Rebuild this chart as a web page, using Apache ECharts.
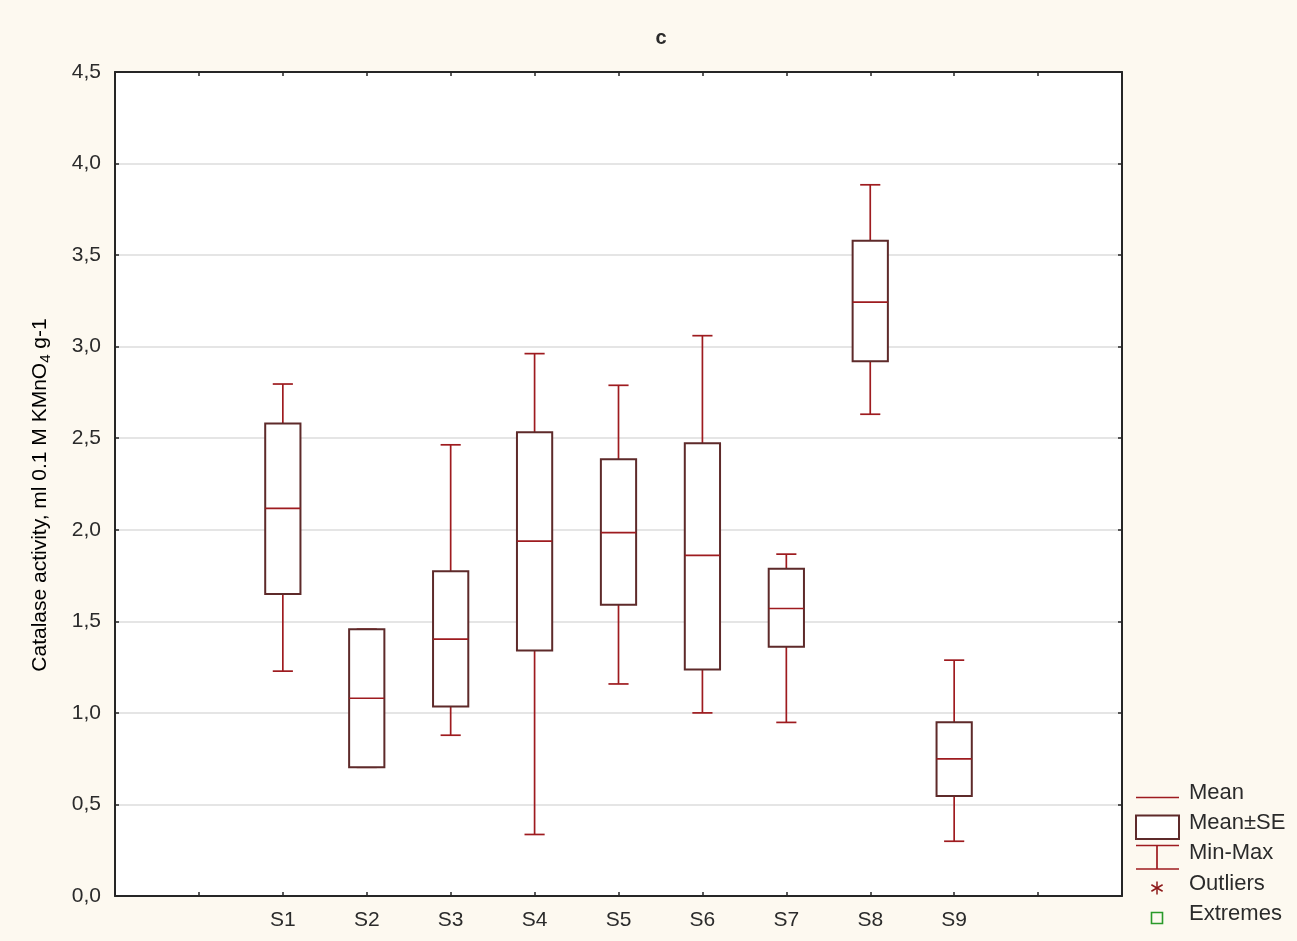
<!DOCTYPE html>
<html>
<head>
<meta charset="utf-8">
<title>Catalase activity c</title>
<script src="https://cdn.jsdelivr.net/npm/echarts@6/dist/echarts.min.js"></script>
<style>
  html, body { margin: 0; padding: 0; background: #fdf9f0; }
  #chart { width: 1297px; height: 941px; }
</style>
</head>
<body>
<div id="chart"></div>
<script>
// Sites and their summary statistics (catalase activity)
const categories = ['S1', 'S2', 'S3', 'S4', 'S5', 'S6', 'S7', 'S8', 'S9'];
const means  = [2.117, 1.080, 1.403, 1.938, 1.984, 1.860, 1.570, 3.243, 0.749];
const seLow  = [1.649, 0.703, 1.035, 1.341, 1.590, 1.237, 1.361, 2.920, 0.546];
const seHigh = [2.581, 1.457, 1.774, 2.532, 2.385, 2.472, 1.787, 3.578, 0.949];
const mins   = [1.228, 0.703, 0.878, 0.336, 1.158, 1.000, 0.948, 2.631, 0.299];
const maxs   = [2.796, 1.457, 2.464, 2.962, 2.789, 3.060, 1.867, 3.884, 1.288];
const yTicks = [0, 0.5, 1, 1.5, 2, 2.5, 3, 3.5, 4, 4.5];

// Categories sit at x = 2..10 on a 0..12 axis
const firstPos = 2;
const boxData = categories.map((c, i) => [i + firstPos, mins[i], seLow[i], means[i], seHigh[i], maxs[i]]);

const BOX_COLOR = '#5e2a2a';
const WHISKER_COLOR = '#9e1b1f';
const FONT = '"Liberation Sans", Arial, sans-serif';
const TEXT_COLOR = '#2b2b2b';

function renderBox(params, api) {
  const x = api.value(0);
  const pMin = api.coord([x, api.value(1)]);
  const pLo = api.coord([x, api.value(2)]);
  const pMean = api.coord([x, api.value(3)]);
  const pHi = api.coord([x, api.value(4)]);
  const pMax = api.coord([x, api.value(5)]);
  const unit = api.size([1, 0])[0];
  const boxW = unit * 0.42;
  const capW = unit * 0.24;
  const cx = pMean[0];
  const wStyle = { stroke: WHISKER_COLOR, lineWidth: 1.7 };
  return {
    type: 'group',
    children: [
      { type: 'line', shape: { x1: cx, y1: pMax[1], x2: cx, y2: pHi[1] }, style: wStyle },
      { type: 'line', shape: { x1: cx, y1: pLo[1], x2: cx, y2: pMin[1] }, style: wStyle },
      { type: 'line', shape: { x1: cx - capW / 2, y1: pMax[1], x2: cx + capW / 2, y2: pMax[1] }, style: wStyle },
      { type: 'line', shape: { x1: cx - capW / 2, y1: pMin[1], x2: cx + capW / 2, y2: pMin[1] }, style: wStyle },
      { type: 'rect', shape: { x: cx - boxW / 2, y: pHi[1], width: boxW, height: pLo[1] - pHi[1] },
        style: { fill: '#ffffff', stroke: BOX_COLOR, lineWidth: 2 } },
      { type: 'line', shape: { x1: cx - boxW / 2, y1: pMean[1], x2: cx + boxW / 2, y2: pMean[1] }, style: wStyle }
    ]
  };
}

const axisLine = { show: true, onZero: false, lineStyle: { color: '#262626', width: 2 } };
const axisTick = { show: true, inside: true, length: 4, lineStyle: { color: '#262626', width: 1.5 } };

const chart = echarts.init(document.getElementById('chart'), null, { renderer: 'canvas' });

// Legend symbols and labels
const LX = 1136, LX2 = 1179, LMID = 1157, LTX = 1189;
const legendLabels = ['Mean', 'Mean±SE', 'Min-Max', 'Outliers', 'Extremes'];
const legendY = [793, 823, 853, 884, 914];
const starR = 6.5, starY = 888;
const starStyle = { stroke: '#8e1a1a', lineWidth: 1.5 };
const legendGraphics = [
  { type: 'line', shape: { x1: LX, y1: 797.5, x2: LX2, y2: 797.5 }, style: { stroke: WHISKER_COLOR, lineWidth: 1.7 } },
  { type: 'rect', shape: { x: LX, y: 815.5, width: LX2 - LX, height: 23.5 }, style: { fill: '#ffffff', stroke: BOX_COLOR, lineWidth: 2 } },
  { type: 'line', shape: { x1: LX, y1: 845.5, x2: LX2, y2: 845.5 }, style: { stroke: WHISKER_COLOR, lineWidth: 1.7 } },
  { type: 'line', shape: { x1: LMID, y1: 845.5, x2: LMID, y2: 869 }, style: { stroke: WHISKER_COLOR, lineWidth: 1.7 } },
  { type: 'line', shape: { x1: LX, y1: 869, x2: LX2, y2: 869 }, style: { stroke: WHISKER_COLOR, lineWidth: 1.7 } },
  // six-armed asterisk for outliers
  { type: 'line', shape: { x1: LMID, y1: starY - starR, x2: LMID, y2: starY + starR }, style: starStyle },
  { type: 'line', shape: { x1: LMID - starR * 0.866, y1: starY - starR * 0.5, x2: LMID + starR * 0.866, y2: starY + starR * 0.5 }, style: starStyle },
  { type: 'line', shape: { x1: LMID - starR * 0.866, y1: starY + starR * 0.5, x2: LMID + starR * 0.866, y2: starY - starR * 0.5 }, style: starStyle },
  { type: 'rect', shape: { x: LMID - 5.5, y: 912.5, width: 11, height: 11 }, style: { fill: 'none', stroke: '#2a9a2a', lineWidth: 1.6 } }
].concat(legendLabels.map((t, i) => ({
  type: 'text', x: LTX, y: legendY[i],
  style: { text: t, font: '22px ' + FONT, fill: TEXT_COLOR, align: 'left', verticalAlign: 'middle' }
})));

chart.setOption({
  backgroundColor: '#fdf9f0',
  animation: false,
  grid: {
    left: 115, right: 175, top: 72, bottom: 45,
    show: true, backgroundColor: '#ffffff', borderWidth: 0
  },
  xAxis: [
    {
      type: 'value', min: 0, max: 12, interval: 1, position: 'bottom',
      axisLine, axisTick, splitLine: { show: false },
      axisLabel: {
        margin: 14, fontFamily: FONT, fontSize: 21, color: TEXT_COLOR,
        formatter: v => categories[v - firstPos] || ''
      }
    },
    {
      type: 'value', min: 0, max: 12, interval: 1, position: 'top',
      axisLine, axisTick, splitLine: { show: false }, axisLabel: { show: false }
    }
  ],
  yAxis: [
    {
      type: 'value', min: yTicks[0], max: yTicks[yTicks.length - 1], interval: 0.5, position: 'left',
      axisLine, axisTick,
      splitLine: { show: true, lineStyle: { color: '#dcdcdc', width: 1.5 } },
      axisLabel: {
        margin: 14, fontFamily: FONT, fontSize: 21, color: TEXT_COLOR,
        formatter: v => v.toFixed(1).replace('.', ',')
      }
    },
    {
      type: 'value', min: yTicks[0], max: yTicks[yTicks.length - 1], interval: 0.5, position: 'right',
      axisLine, axisTick, splitLine: { show: false }, axisLabel: { show: false }
    }
  ],
  graphic: [
    {
      type: 'text', x: 661, y: 38,
      style: { text: 'c', font: 'bold 20px ' + FONT, fill: TEXT_COLOR, align: 'center', verticalAlign: 'middle' }
    },
    {
      type: 'text', x: 40, y: 495, rotation: Math.PI / 2,
      style: {
        text: '{n|Catalase activity, ml 0.1 M KMnO}{s|4}{n| g-1}',
        align: 'center', verticalAlign: 'middle',
        rich: {
          n: { fontFamily: FONT, fontSize: 21, color: TEXT_COLOR, lineHeight: 26, verticalAlign: 'middle' },
          s: { fontFamily: FONT, fontSize: 15, color: TEXT_COLOR, lineHeight: 26, padding: [10, 0, 0, 0], verticalAlign: 'bottom' }
        }
      }
    }
  ].concat(legendGraphics),
  series: [
    {
      type: 'custom',
      xAxisIndex: 0, yAxisIndex: 0,
      renderItem: renderBox,
      encode: { x: 0, y: [1, 2, 3, 4, 5] },
      data: boxData,
      z: 5
    }
  ]
});
</script>
</body>
</html>
